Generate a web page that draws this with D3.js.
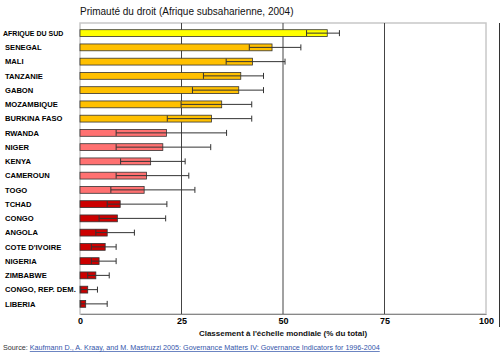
<!DOCTYPE html>
<html><head><meta charset="utf-8">
<script src="https://cdn.jsdelivr.net/npm/d3@7"></script>
<style>body{margin:0;background:#fff;}svg{display:block;font-family:"Liberation Sans",Arial,sans-serif;}</style>
</head><body>
<div id="chart"></div>
<script>
const countries = ["AFRIQUE DU SUD","SENEGAL","MALI","TANZANIE","GABON","MOZAMBIQUE","BURKINA FASO","RWANDA","NIGER","KENYA","CAMEROUN","TOGO","TCHAD","CONGO","ANGOLA","COTE D'IVOIRE","NIGERIA","ZIMBABWE","CONGO, REP. DEM.","LIBERIA"];
const values = [60.9,47.3,42.5,39.6,39.1,34.9,32.4,21.3,20.4,17.4,16.4,15.8,9.9,9.2,6.7,6.2,4.7,3.9,1.9,1.4];
const lower = [55.8,41.7,36.0,30.4,27.7,24.9,21.5,8.9,8.9,10.0,8.9,7.6,6.7,4.7,3.9,2.8,2.8,1.9,0.2,0.2];
const upper = [63.9,54.4,50.5,45.2,45.2,42.3,42.3,36.1,32.2,25.9,26.8,28.3,21.4,21.1,13.4,8.9,8.9,7.2,4.3,6.7];
const groups = ["top","high","high","high","high","high","high","mid","mid","mid","mid","mid","low","low","low","low","low","low","low","low"];
const groupColors = {top:"#ffff00", high:"#ffc000", mid:"#ff7171", low:"#cc0000"};
const xTicks = [0,25,50,75,100];
const title = "Primauté du droit (Afrique subsaharienne, 2004)";
const xLabel = "Classement  à l'échelle mondiale (% du total)";
const sourceLabel = "Source: ";
const sourceLink = "Kaufmann D., A. Kraay, and M. Mastruzzi 2005: Governance Matters IV: Governance Indicators for 1996-2004";

const W=500,H=353;
const L=80,R=486,T=23,B=314;
const svg=d3.select("#chart").append("svg").attr("width",W).attr("height",H);
const x=d3.scaleLinear().domain([0,100]).range([L,R]);
const y=d3.scaleBand().domain(countries).range([T+3,B-3]).paddingInner(0.52).paddingOuter(0.26);

svg.append("rect").attr("x",L).attr("y",T).attr("width",R-L).attr("height",B-T)
  .attr("fill","none").attr("stroke","#c8c8c8").attr("stroke-width",1.5);
svg.append("g").selectAll("line").data(xTicks.filter(d=>d>0&&d<100)).join("line")
  .attr("x1",d=>x(d)).attr("x2",d=>x(d)).attr("y1",T).attr("y2",B)
  .attr("stroke","#444").attr("stroke-width",1);
const xa=svg.append("g").attr("transform",`translate(0,${B})`)
  .call(d3.axisBottom(x).tickValues(xTicks).tickSize(0).tickPadding(4));
xa.select(".domain").attr("stroke","#888");
xa.selectAll("text").attr("font-size",9).attr("font-weight","bold").attr("fill","#000");
svg.append("line").attr("x1",499.5).attr("x2",499.5).attr("y1",T).attr("y2",327).attr("stroke","#333").attr("stroke-width",1);

svg.append("g").selectAll("rect").data(countries).join("rect")
  .attr("x",x(0)).attr("y",d=>y(d)).attr("width",(d,i)=>x(values[i])-x(0)).attr("height",y.bandwidth())
  .attr("fill",(d,i)=>groupColors[groups[i]]).attr("stroke","#333").attr("stroke-width",0.8);

const eg=svg.append("g").attr("stroke","#333").attr("stroke-width",1);
countries.forEach((c,i)=>{
  const cy=y(c)+y.bandwidth()/2;
  eg.append("line").attr("x1",x(lower[i])).attr("x2",x(upper[i])).attr("y1",cy).attr("y2",cy);
  eg.append("line").attr("x1",x(lower[i])).attr("x2",x(lower[i])).attr("y1",cy-3).attr("y2",cy+3);
  eg.append("line").attr("x1",x(upper[i])).attr("x2",x(upper[i])).attr("y1",cy-3).attr("y2",cy+3);
});

svg.append("g").selectAll("text").data(countries).join("text")
  .attr("x",(d,i)=>i===0?3:5).attr("y",d=>y(d)+y.bandwidth()/2).attr("dy","0.35em")
  .attr("font-size",(d,i)=>i===0?7:7.6).attr("font-weight","bold").attr("fill","#000").text(d=>d);

svg.append("text").attr("x",80).attr("y",15).attr("font-size",10).attr("fill","#111").text(title);
svg.append("text").attr("x",283).attr("y",336).attr("text-anchor","middle").attr("font-size",8).attr("font-weight","bold").attr("fill","#111").text(xLabel);
const st=svg.append("text").attr("x",3).attr("y",350).attr("font-size",7.2).attr("fill","#333");
st.append("tspan").text(sourceLabel);
st.append("tspan").attr("fill","#3355aa").attr("text-decoration","underline").text(sourceLink);
</script>
</body></html>
